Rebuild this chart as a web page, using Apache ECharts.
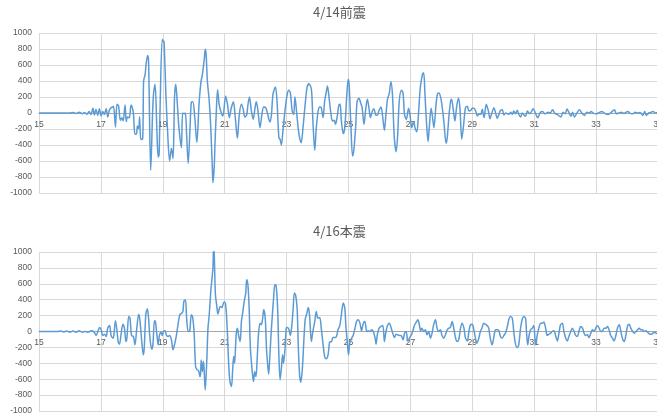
<!DOCTYPE html>
<html>
<head>
<meta charset="utf-8">
<script src="https://cdn.jsdelivr.net/npm/echarts@6/dist/echarts.min.js"></script>
<style>
    html, body { margin: 0; background: #fff; }
    #chart { width: 657px; height: 418px; }
</style>
</head>
<body>
<div id="chart"></div>
<script>
const titles = ['4/14前震', '4/16本震']
const startSec = 15
const endSec = 35

// 4/14 foreshock: time (s), acceleration
const foreTime = [15.0, 16.0, 16.1, 16.2, 16.3, 16.4, 16.47, 16.55, 16.62, 16.68, 16.74, 16.79, 16.84, 16.9, 16.95, 17.01, 17.06, 17.11, 17.17, 17.22, 17.27, 17.33, 17.38, 17.41, 17.47, 17.52, 17.57, 17.63, 17.68, 17.72, 17.78, 17.82, 17.86, 17.92, 17.97, 18.0, 18.05, 18.1, 18.15, 18.18, 18.22, 18.25, 18.29, 18.35, 18.38, 18.43, 18.46, 18.51, 18.54, 18.61, 18.67, 18.7, 18.75, 18.81, 18.85, 18.88, 18.91, 18.98, 19.01, 19.04, 19.1, 19.15, 19.22, 19.28, 19.33, 19.38, 19.42, 19.47, 19.52, 19.6, 19.64, 19.69, 19.73, 19.77, 19.82, 19.88, 19.92, 19.97, 20.03, 20.1, 20.17, 20.23, 20.28, 20.34, 20.37, 20.4, 20.44, 20.5, 20.55, 20.6, 20.62, 20.66, 20.69, 20.73, 20.77, 20.82, 20.87, 20.94, 21.03, 21.09, 21.15, 21.21, 21.28, 21.34, 21.41, 21.47, 21.54, 21.6, 21.65, 21.71, 21.75, 21.8, 21.86, 21.92, 21.98, 22.02, 22.07, 22.14, 22.2, 22.26, 22.33, 22.39, 22.46, 22.51, 22.56, 22.64, 22.69, 22.75, 22.79, 22.83, 22.89, 22.96, 23.02, 23.07, 23.12, 23.18, 23.23, 23.27, 23.34, 23.4, 23.47, 23.53, 23.6, 23.66, 23.72, 23.8, 23.85, 23.91, 23.96, 24.02, 24.07, 24.12, 24.18, 24.23, 24.29, 24.32, 24.36, 24.43, 24.48, 24.54, 24.58, 24.63, 24.69, 24.73, 24.77, 24.83, 24.88, 24.94, 24.99, 25.02, 25.08, 25.13, 25.17, 25.23, 25.28, 25.34, 25.39, 25.44, 25.5, 25.55, 25.61, 25.66, 25.71, 25.77, 25.82, 25.88, 25.93, 25.98, 26.05, 26.1, 26.16, 26.21, 26.26, 26.32, 26.37, 26.42, 26.48, 26.54, 26.59, 26.64, 26.71, 26.76, 26.81, 26.87, 26.94, 26.99, 27.04, 27.1, 27.16, 27.21, 27.26, 27.32, 27.39, 27.43, 27.47, 27.53, 27.57, 27.61, 27.67, 27.71, 27.76, 27.82, 27.87, 27.92, 27.98, 28.03, 28.09, 28.15, 28.19, 28.25, 28.3, 28.33, 28.39, 28.44, 28.49, 28.55, 28.6, 28.66, 28.71, 28.78, 28.84, 28.89, 28.95, 29.0, 29.05, 29.11, 29.16, 29.22, 29.27, 29.32, 29.38, 29.45, 29.52, 29.57, 29.62, 29.7, 29.75, 29.81, 29.86, 29.91, 29.97, 30.02, 30.08, 30.13, 30.18, 30.24, 30.29, 30.34, 30.4, 30.45, 30.51, 30.56, 30.61, 30.67, 30.72, 30.78, 30.85, 30.91, 30.96, 31.05, 31.11, 31.2, 31.27, 31.35, 31.45, 31.52, 31.59, 31.68, 31.75, 31.86, 31.93, 32.0, 32.06, 32.14, 32.19, 32.24, 32.3, 32.38, 32.46, 32.54, 32.62, 32.7, 32.78, 32.84, 32.92, 33.0, 33.1, 33.18, 33.28, 33.38, 33.48, 33.59, 33.66, 33.74, 33.82, 33.9, 33.97, 34.03, 34.1, 34.18, 34.26, 34.35, 34.42, 34.51, 34.57, 34.62, 34.7, 34.78, 34.84, 34.92, 35.0]
const foreAcc = [0, 0, 5, -5, 8, -8, 5, -15, 20, -20, 58, -25, 46, -30, 54, -37, 20, -20, 54, -50, 30, 67, 75, 83, -175, 108, 88, -92, -58, -100, 100, -108, -50, -60, 96, 85, 0, -267, -260, -162, -195, -50, -330, -320, 400, 484, 608, 720, 650, -717, 0, 233, 358, -225, -550, -520, 25, 920, 900, 892, 233, -190, -600, -440, -570, 200, 360, 110, -180, -433, 0, -10, 0, -270, -630, -185, 130, 140, -40, -370, 108, 380, 484, 670, 796, 733, 400, 150, -183, -683, -871, -683, -350, 25, 292, 108, 25, -40, 212, 108, -58, 60, 142, -50, -317, -25, 108, 45, -50, -25, 100, 200, 30, -79, 65, 142, 45, -183, -25, 75, 65, -17, -113, -25, 233, 325, 150, -308, -330, -400, -183, 67, 233, 283, 255, 25, -17, 200, -58, -267, -371, -183, 108, 317, 365, 300, -100, -467, -183, 25, 75, 67, -58, 150, 280, 338, 233, 0, -100, -92, -142, -58, 100, 108, -100, -258, -183, 192, 421, 358, -183, -537, -475, -183, 150, 183, 130, 67, -142, 25, 171, 67, -58, 25, 54, -25, -29, 25, 75, -37, -217, -17, 171, 250, 392, 233, -308, -483, -267, 150, 283, 254, -20, -80, 58, -30, -183, -110, -200, -233, -17, 317, 483, 504, 233, -183, -358, -183, 58, -37, -183, 67, 233, 250, 192, 67, -142, -379, -308, -17, 150, 171, 25, -100, 67, 183, 67, -329, -183, 67, 83, 25, 33, 58, 58, 25, -37, -17, -17, 46, -58, 108, 25, -71, -17, 67, 4, -67, -17, 33, 42, -25, 0, -8, -17, 8, -17, 25, -8, 33, -25, -50, 0, -25, -42, 25, -8, 17, 54, -10, -60, 10, 20, -10, 10, 0, 40, -10, -20, -50, 10, -10, 50, -10, -40, 10, -50, 0, 40, 0, -30, 10, 0, 20, -5, -10, 5, 20, -5, -20, 5, 40, -10, 0, 10, -5, 10, 20, -5, -10, 10, 0, 5, -30, 20, -30, 0, 10, 20, 0, 10]

// 4/16 main shock: time (s), acceleration
const mainTime = [15.0, 15.6, 15.7, 15.8, 15.9, 16.0, 16.1, 16.2, 16.3, 16.4, 16.48, 16.58, 16.69, 16.78, 16.85, 16.9, 16.96, 17.01, 17.06, 17.12, 17.17, 17.22, 17.28, 17.33, 17.39, 17.42, 17.47, 17.51, 17.56, 17.6, 17.65, 17.71, 17.76, 17.81, 17.84, 17.9, 17.94, 17.99, 18.05, 18.1, 18.16, 18.22, 18.26, 18.32, 18.37, 18.4, 18.45, 18.5, 18.54, 18.58, 18.64, 18.68, 18.73, 18.76, 18.81, 18.85, 18.89, 18.94, 18.98, 19.02, 19.07, 19.12, 19.17, 19.22, 19.28, 19.33, 19.39, 19.44, 19.49, 19.55, 19.6, 19.65, 19.68, 19.73, 19.77, 19.82, 19.87, 19.92, 19.96, 20.01, 20.06, 20.11, 20.16, 20.2, 20.22, 20.24, 20.28, 20.31, 20.33, 20.37, 20.42, 20.46, 20.5, 20.55, 20.59, 20.62, 20.64, 20.66, 20.7, 20.74, 20.78, 20.83, 20.87, 20.91, 20.96, 21.0, 21.04, 21.09, 21.13, 21.17, 21.22, 21.26, 21.29, 21.32, 21.37, 21.41, 21.45, 21.5, 21.54, 21.58, 21.63, 21.68, 21.71, 21.75, 21.79, 21.83, 21.89, 21.93, 21.97, 22.01, 22.05, 22.09, 22.14, 22.18, 22.22, 22.26, 22.31, 22.35, 22.38, 22.42, 22.45, 22.49, 22.54, 22.58, 22.62, 22.66, 22.71, 22.75, 22.79, 22.84, 22.87, 22.9, 22.95, 22.99, 23.03, 23.08, 23.12, 23.16, 23.21, 23.25, 23.29, 23.34, 23.38, 23.42, 23.46, 23.51, 23.55, 23.6, 23.65, 23.7, 23.74, 23.8, 23.84, 23.91, 23.96, 24.01, 24.07, 24.12, 24.18, 24.23, 24.28, 24.34, 24.39, 24.45, 24.5, 24.56, 24.61, 24.66, 24.72, 24.77, 24.83, 24.88, 24.92, 24.97, 25.0, 25.04, 25.1, 25.15, 25.21, 25.26, 25.31, 25.37, 25.42, 25.48, 25.53, 25.59, 25.64, 25.69, 25.75, 25.8, 25.86, 25.89, 25.93, 25.99, 26.05, 26.11, 26.16, 26.21, 26.27, 26.32, 26.38, 26.43, 26.48, 26.54, 26.59, 26.65, 26.7, 26.76, 26.81, 26.86, 26.92, 26.97, 27.03, 27.08, 27.13, 27.19, 27.24, 27.29, 27.33, 27.37, 27.43, 27.48, 27.54, 27.59, 27.65, 27.7, 27.75, 27.81, 27.86, 27.91, 27.97, 28.02, 28.08, 28.13, 28.19, 28.24, 28.29, 28.35, 28.4, 28.46, 28.51, 28.56, 28.62, 28.67, 28.73, 28.78, 28.84, 28.89, 28.94, 29.0, 29.05, 29.15, 29.21, 29.26, 29.31, 29.37, 29.42, 29.48, 29.53, 29.58, 29.64, 29.69, 29.75, 29.8, 29.85, 29.91, 29.96, 30.02, 30.07, 30.12, 30.18, 30.23, 30.29, 30.34, 30.39, 30.45, 30.5, 30.56, 30.61, 30.66, 30.72, 30.75, 30.79, 30.83, 30.88, 30.94, 30.99, 31.04, 31.1, 31.15, 31.21, 31.26, 31.31, 31.37, 31.42, 31.48, 31.53, 31.58, 31.64, 31.69, 31.75, 31.8, 31.85, 31.91, 31.96, 32.02, 32.07, 32.12, 32.18, 32.23, 32.29, 32.34, 32.39, 32.45, 32.5, 32.56, 32.61, 32.66, 32.72, 32.77, 32.83, 32.88, 32.94, 32.99, 33.04, 33.1, 33.15, 33.21, 33.26, 33.31, 33.37, 33.42, 33.47, 33.53, 33.58, 33.64, 33.69, 33.75, 33.8, 33.85, 33.91, 33.96, 34.02, 34.07, 34.12, 34.18, 34.23, 34.29, 34.34, 34.39, 34.45, 34.5, 34.55, 34.61, 34.66, 34.72, 34.77, 34.83, 34.88, 34.94, 35.0]
const mainAcc = [0, 0, 5, -5, 5, -8, 5, -8, 10, -10, 0, -8, 8, -8, -50, 0, 50, 21, -50, -34, -63, 42, 76, -50, -84, -42, 134, 42, -134, -160, -42, 92, 42, -126, -84, 189, 168, -50, -63, -168, 42, 218, 147, -126, -294, -210, 210, 286, 168, -63, -222, -168, 134, 126, -42, -168, -50, -8, -50, 0, 8, -50, -63, -50, -105, -231, -147, -50, 84, 210, 226, 252, 378, 399, 168, 0, 8, 210, 189, 0, -441, -483, -496, -567, -538, -357, -504, -378, -441, -735, -378, 42, 210, 504, 672, 800, 1060, 1000, 462, 336, 218, 294, 315, 300, 357, 370, 300, -42, -420, -630, -693, -462, -315, -399, -42, 42, -50, -126, 126, 231, 378, 483, 651, 588, 294, -210, -504, -630, -504, -567, -336, -42, 105, 84, 147, 273, 168, -210, -378, -538, -378, -84, 210, 420, 588, 580, 294, -294, -609, -420, -294, -399, -210, 42, 50, 21, -50, 42, 273, 483, 462, 294, -210, -546, -638, -462, -168, 150, 220, 302, 210, -126, -20, 126, 252, 168, 176, 42, -168, -315, -344, -294, -134, -126, -76, -76, -63, 21, 76, 210, 357, 294, 42, -168, -294, -147, -84, -50, 42, 126, 147, 105, 8, 105, 126, 0, 8, 0, 21, 0, -84, -160, -42, 42, 63, 76, -126, 0, 84, 105, 42, -21, -76, -34, -42, -50, -50, -105, -21, 0, -118, -84, -42, 8, 76, 118, 147, 84, 8, 42, 0, 21, -42, 0, -84, -21, 84, 147, 42, 0, 21, -50, -84, -42, 21, 42, 50, 126, 42, -84, -126, -105, 42, 105, 42, -84, -118, 0, 84, 92, 21, -147, -84, 0, 42, 105, 92, 76, 42, -84, -168, -84, 21, 21, 17, -63, -84, -50, -21, 42, 147, 189, 168, 0, -147, -202, -168, 42, 147, 189, 168, 0, -168, -63, 21, 42, 76, -168, -42, 42, 105, 105, 118, 42, -50, -34, -21, 0, 8, -50, -118, -21, 84, 105, 0, -84, -118, -63, 0, 42, 0, -50, -63, 8, 63, 42, -21, -50, -42, -76, -21, 21, 8, 42, 76, 42, 0, 8, 42, 42, 63, 21, -50, -84, -118, -50, 42, 84, 0, -84, -126, -50, 76, 92, 42, 0, -21, 0, 21, 42, 21, 21, 0, 8, -8, -29, -34, -25, -8, -21, -34]

const yMin = -1000
const yMax = 1000
const yStep = 200
const xStep = 2

const grids = [
    { left: 39, top: 33, width: 619, height: 160, outerBoundsMode: 'none', containLabel: false },
    { left: 39, top: 252, width: 619, height: 159, outerBoundsMode: 'none', containLabel: false }
]

const textColor = '#595959'
const gridColor = '#d9d9d9'
const labelFont = '"Liberation Sans", "DejaVu Sans", sans-serif'

function axesFor(i) {
    const g = grids[i]
    // x axis is shifted so ticks start at 0 (labels add startSec back)
    // and lifted from the bottom edge up to the zero line
    const x = {
        type: 'value',
        gridIndex: i,
        position: 'bottom',
        offset: -g.height / 2,
        min: 0,
        max: endSec - startSec,
        interval: xStep,
        axisLine: { onZero: false, lineStyle: { color: '#a6a6a6', width: 1 } },
        axisTick: { show: false },
        axisLabel: {
            formatter: v => String(v + startSec),
            fontSize: 8.5,
            color: textColor,
            fontFamily: labelFont,
            margin: 7,
            showMinLabel: true,
            showMaxLabel: true
        },
        splitLine: { show: true, lineStyle: { color: gridColor, width: 1 } }
    }
    const y = {
        type: 'value',
        gridIndex: i,
        min: yMin,
        max: yMax,
        interval: yStep,
        axisLine: { show: false },
        axisTick: { show: false },
        axisLabel: {
            formatter: v => String(v),
            fontSize: 8.5,
            color: textColor,
            fontFamily: labelFont,
            margin: 7
        },
        splitLine: { show: true, lineStyle: { color: gridColor, width: 1 } }
    }
    return { x, y }
}

function toPairs(times, values) {
    return times.map((t, i) => [t - startSec, values[i]])
}

const a0 = axesFor(0)
const a1 = axesFor(1)

const chart = echarts.init(document.getElementById('chart'), null, { renderer: 'canvas' })
chart.setOption({
    animation: false,
    backgroundColor: '#fff',
    title: [
        { text: titles[0], left: 313, top: 6, padding: 0,
          textStyle: { fontSize: 13, fontWeight: 'normal', color: textColor, fontFamily: 'Noto Sans CJK JP' } },
        { text: titles[1], left: 313, top: 225, padding: 0,
          textStyle: { fontSize: 13, fontWeight: 'normal', color: textColor, fontFamily: 'Noto Sans CJK JP' } }
    ],
    grid: grids,
    xAxis: [a0.x, a1.x],
    yAxis: [a0.y, a1.y],
    series: [
        {
            type: 'line', xAxisIndex: 0, yAxisIndex: 0,
            data: toPairs(foreTime, foreAcc),
            showSymbol: false, smooth: 0.3, clip: true,
            lineStyle: { color: '#5B9BD5', width: 1.5 }
        },
        {
            type: 'line', xAxisIndex: 1, yAxisIndex: 1,
            data: toPairs(mainTime, mainAcc),
            showSymbol: false, smooth: 0.3, clip: true,
            lineStyle: { color: '#5B9BD5', width: 1.5 }
        }
    ]
})
</script>
</body>
</html>
